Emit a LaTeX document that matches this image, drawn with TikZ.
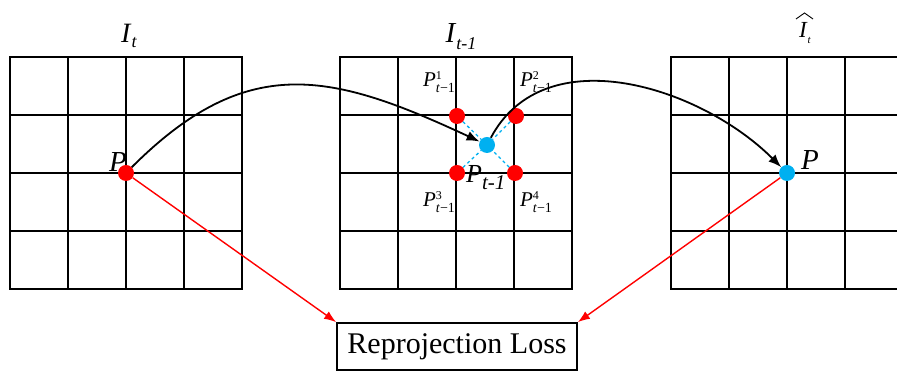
\documentclass[tikz,border=0pt]{standalone}
\usepackage{fontspec}
\setmainfont{Liberation Serif}
\usetikzlibrary{arrows.meta, positioning}
\definecolor{dotred}{RGB}{255, 0, 0}
\definecolor{dotblue}{RGB}{0, 176, 240}
% P with neighbour index and t-1 subscript
\newcommand{\Pk}[1]{\textit{P}\rlap{\raisebox{7pt}{\fontsize{12}{13}\selectfont #1}}\raisebox{-6pt}{\fontsize{14}{15}\selectfont\textit{t}−1}}

\begin{document}
\begin{tikzpicture}[x=1pt, y=1pt,
    dot/.style={circle, inner sep=0pt, minimum size=16pt},
    reddot/.style={dot, fill=dotred},
    bluedot/.style={dot, fill=dotblue},
    cell/.style={line width=1.2pt},
    frame/.style={line width=2.6pt},
    flow/.style={line width=1.8pt, -{Latex[length=13pt,width=10pt]}},
    lossarrow/.style={dotred, line width=1.4pt, -{Latex[length=12pt,width=9pt]}},
    link/.style={dotblue, dashed, line width=1.3pt},
    lbl/.style={inner sep=0pt, anchor=base}]
                \clip (0,0) rectangle (897,371);

                % Image grids
                \foreach \gx in {10,340,671} {
                    \begin{scope}[shift={(\gx,82)}]
                        \draw[cell, step=58] (0,0) grid (232,232);
                        \draw[frame] (0,0) rectangle (232,232);
                    \end{scope}
                }

                % Titles
                \node[lbl, font={\fontsize{28}{30}\selectfont}] (tcur) at (129,328) {\textit{I}\raisebox{-5pt}{\fontsize{18}{20}\selectfont\textit{t}}};
                \node[lbl, font={\fontsize{29}{32}\selectfont}] (tprev) at (461,328) {\textit{I}\raisebox{-7pt}{\fontsize{18}{20}\selectfont\textit{t-1}}};
                \node[lbl, font={\fontsize{23}{26}\selectfont}] (trec) at (805,333) {\textit{I}\raisebox{-6pt}{\fontsize{11}{12}\selectfont\textit{t}}};
                \draw[line width=0.9pt] (796,352) .. controls (800,355) .. (804.5,358) .. controls (809,355) .. (813,352);

                % Points
                \node[reddot] (p) at (126,198) {};
                \node[bluedot] (c) at (487,226) {};
                \node[bluedot] (r) at (787,198) {};

                % Bilinear neighbours
                \foreach \k/\x/\y in {1/457/255, 2/516/255, 3/457/198, 4/515/198} {
                    \node[reddot] (q\k) at (\x,\y) {};
                    \draw[link] (q\k) -- (c);
                }

                % Point labels
                \node[lbl, anchor=base east, font={\fontsize{29}{32}\selectfont}] (plbl) at ([xshift=1pt,yshift=1pt]p.center) {\textit{P}};
                \node[lbl, anchor=base west, font={\fontsize{29}{32}\selectfont}] (rlbl) at ([xshift=14pt,yshift=3pt]r.center) {\textit{P}};
                \node[lbl, anchor=base west, font={\fontsize{26}{28}\selectfont}] (clbl) at (466,188) {\textit{P}\raisebox{-7pt}{\fontsize{21}{23}\selectfont\textit{t-1}}};
                \node[lbl, font={\fontsize{21}{24}\selectfont}] (l1) at (439,284) {\Pk{1}};
                \node[lbl, font={\fontsize{21}{24}\selectfont}] (l2) at (536,284) {\Pk{2}};
                \node[lbl, font={\fontsize{21}{24}\selectfont}] (l3) at (439,164) {\Pk{3}};
                \node[lbl, font={\fontsize{21}{24}\selectfont}] (l4) at (536,164) {\Pk{4}};

                % Loss box
                \node[draw, line width=1.8pt, minimum width=240pt, minimum height=47pt, font={\fontsize{30}{34}\selectfont}] (rl) at (457,24.5) {Reprojection Loss};

                % Warps
                \draw[flow] (p) to[out=45, in=155, looseness=1.2] (c);
                \draw[flow] (c) to[out=62, in=135] (r);
                \draw[lossarrow] (p) -- (rl.north west);
                \draw[lossarrow] (r) -- (rl.north east);
            \end{tikzpicture}
\end{document}
